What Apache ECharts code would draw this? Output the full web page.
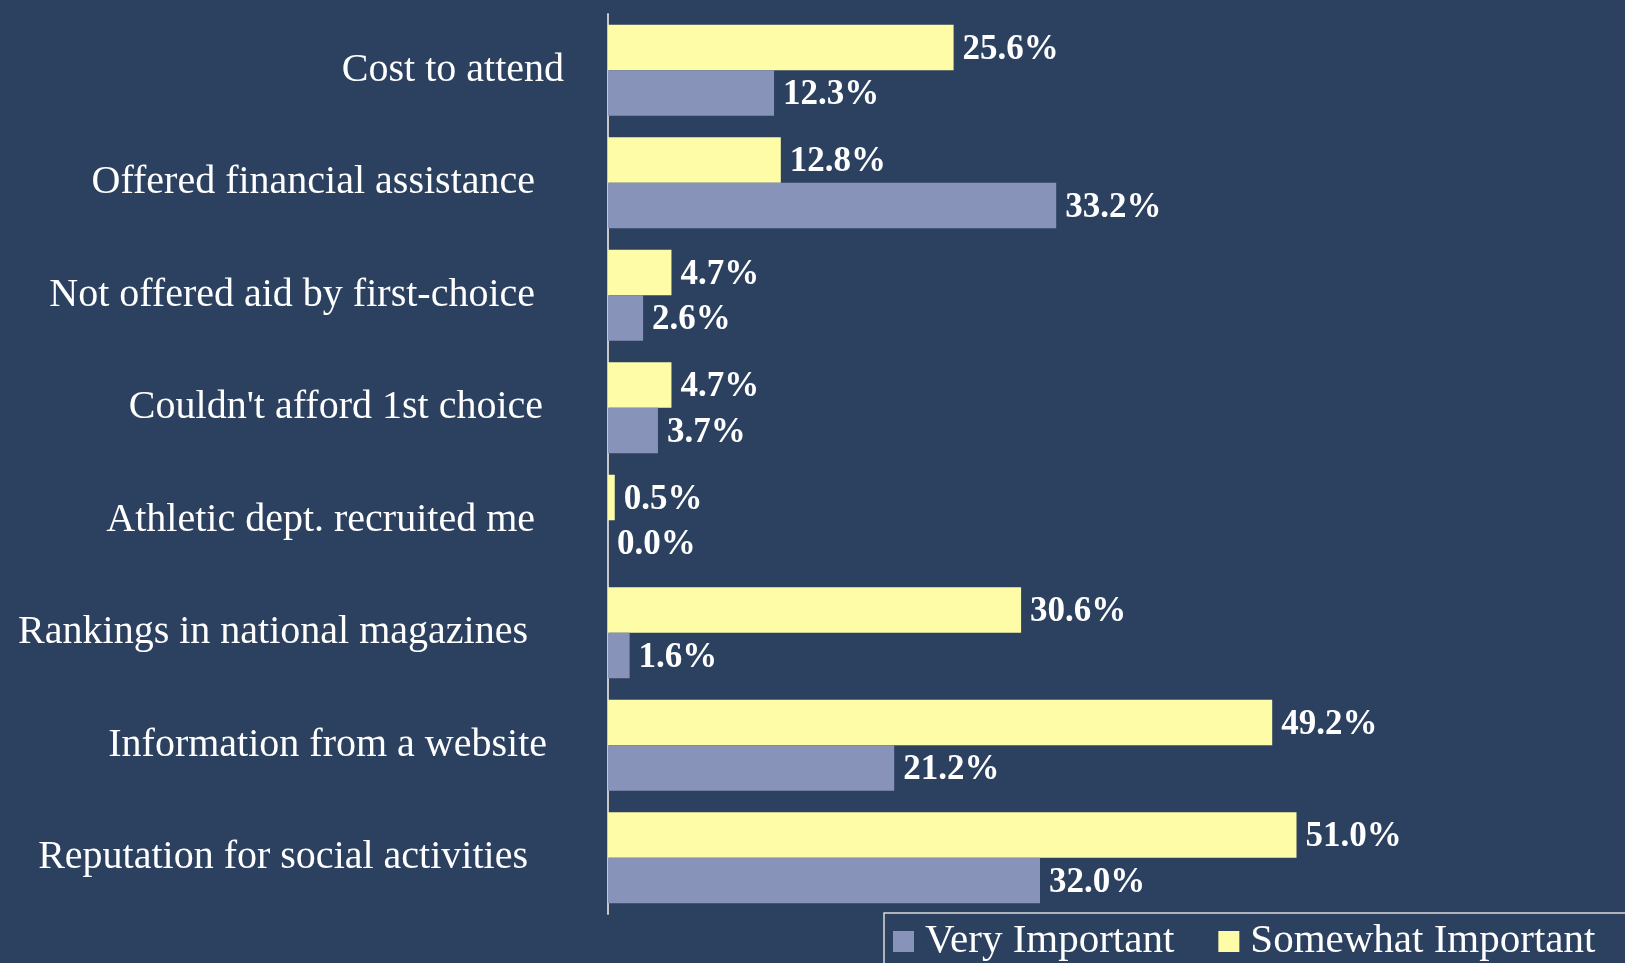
<!DOCTYPE html>
<html>
<head>
<meta charset="utf-8">
<script src="https://cdn.jsdelivr.net/npm/echarts@6/dist/echarts.min.js"></script>
<style>
html,body{margin:0;padding:0;background:#2C4160;}
#chart{width:1625px;height:963px;}
</style>
</head>
<body>
<div id="chart"></div>
<script>
const categories = [
  "Cost to attend",
  "Offered financial assistance",
  "Not offered aid by first-choice",
  "Couldn't afford 1st choice",
  "Athletic dept. recruited me",
  "Rankings in national magazines",
  "Information from a website",
  "Reputation for social activities"
];
const veryImportant = [12.3, 33.2, 2.6, 3.7, 0.0, 1.6, 21.2, 32.0];
const somewhatImportant = [25.6, 12.8, 4.7, 4.7, 0.5, 30.6, 49.2, 51.0];
const seriesNames = ["Very Important", "Somewhat Important"];

const FONT = "'Liberation Serif', 'DejaVu Serif', serif";
// extra right padding of each category label (text box styling)
const labelPad = [0, 29, 29, 21, 29, 36, 17, 36];
const rich = {};
labelPad.forEach((p, i) => {
  rich['l' + i] = { color: '#ffffff', fontFamily: FONT, fontSize: 40, padding: [0, p, 0, 0] };
});

const chart = echarts.init(document.getElementById('chart'));

const labelCfg = {
  show: true,
  position: 'right',
  distance: 9,
  offset: [0, 2],
  color: '#ffffff',
  fontFamily: FONT,
  fontSize: 35,
  fontWeight: 'bold',
  formatter: p => p.value.toFixed(1) + '%'
};

chart.setOption({
  backgroundColor: '#2C4160',
  animation: false,
  grid: { left: 608, top: 14, width: 810, bottom: 49, containLabel: false },
  xAxis: {
    type: 'value', min: 0, max: 60,
    show: false
  },
  yAxis: {
    type: 'category',
    data: categories,
    inverse: true,
    axisLine: { show: true, lineStyle: { color: '#C8C8C8', width: 2 } },
    axisTick: { show: false },
    splitLine: { show: false },
    axisLabel: {
      color: '#ffffff',
      fontFamily: FONT,
      fontSize: 40,
      margin: 44,
      align: 'right',
      formatter: (v, i) => '{l' + i + '|' + v + '}',
      rich: rich
    }
  },
  legend: {
    data: [seriesNames[0], seriesNames[1]],
    left: 893,
    top: 921,
    padding: 0,
    icon: 'rect',
    itemWidth: 21,
    itemHeight: 21,
    itemGap: 44,
    textStyle: {
      color: '#ffffff',
      fontFamily: FONT,
      fontSize: 41,
      lineHeight: 40,
      padding: [0, 0, 0, 6]
    }
  },
  graphic: [{
    type: 'rect',
    silent: true,
    shape: { x: 884, y: 913, width: 800, height: 100 },
    style: { fill: 'none', stroke: '#D9D9D9', lineWidth: 1.5 }
  }],
  series: [
    {
      name: seriesNames[1],
      type: 'bar',
      data: somewhatImportant,
      barWidth: 45.5,
      barGap: '0%',
      itemStyle: { color: '#FFFCA8' },
      label: labelCfg
    },
    {
      name: seriesNames[0],
      type: 'bar',
      data: veryImportant,
      barWidth: 45.5,
      barGap: '0%',
      itemStyle: { color: '#8893B9' },
      label: labelCfg
    }
  ]
});
</script>
</body>
</html>
